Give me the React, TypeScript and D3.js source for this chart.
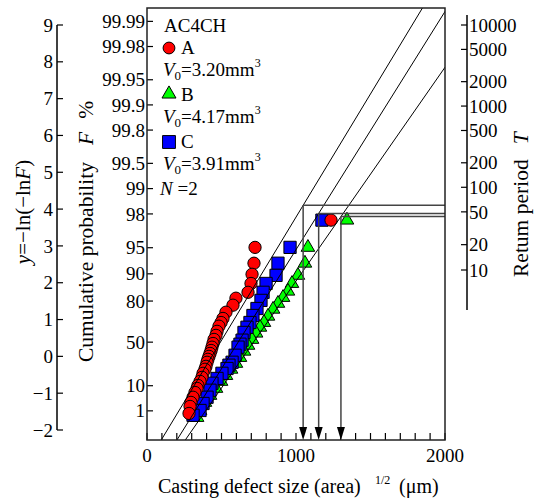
import React from 'react';
import * as d3 from 'd3';

// defect size (area)^1/2 in um, and reduced variate y = -ln(-ln F)
const sizeA = [725, 718, 705, 698, 678, 597, 577, 530, 510, 497, 483, 470, 463, 450, 443, 436, 430, 423, 416, 409, 403, 396, 389, 376, 369, 356, 342, 336, 322, 309, 295, 289, 282];
const varA = [2.96, 2.53, 2.23, 1.98, 1.74, 1.58, 1.39, 1.2, 1.03, 0.92, 0.82, 0.68, 0.57, 0.46, 0.35, 0.25, 0.16, 0.08, 0, -0.08, -0.16, -0.27, -0.35, -0.46, -0.57, -0.68, -0.79, -0.87, -0.98, -1.11, -1.25, -1.36, -1.55];

const sizeB = [1080, 1060, 1013, 973, 946, 913, 879, 846, 812, 785, 758, 732, 705, 678, 651, 624, 597, 564, 530, 497, 463, 423, 389, 356, 336];
const varB = [2.96, 2.53, 2.2, 1.98, 1.77, 1.6, 1.44, 1.28, 1.09, 0.92, 0.79, 0.63, 0.46, 0.3, 0.14, -0.03, -0.19, -0.35, -0.52, -0.68, -0.87, -1.06, -1.25, -1.47, -1.66];

const sizeC = [960, 879, 866, 799, 779, 765, 738, 711, 691, 671, 651, 638, 624, 611, 591, 571, 550, 537, 503, 470, 436, 423, 403, 376, 356, 309];
const varC = [2.96, 2.53, 2.2, 1.98, 1.74, 1.52, 1.3, 1.11, 0.92, 0.79, 0.65, 0.44, 0.33, 0.25, 0.03, -0.16, -0.24, -0.33, -0.46, -0.6, -0.73, -0.92, -1.11, -1.28, -1.47, -1.6];

// estimated maxima plotted at the top (A, B, C)
const predSize = [1235, 1342, 1174];
const predVar = [3.7, 3.7, 3.7];

// fitted lines x = a + b*y and return periods used for the arrows (A, B, C)
const fitIntercept = [435, 648, 552];
const fitSlope = [149.4, 172.2, 154.6];
const returnPeriod = [61, 45, 49];

const legendNames = ['A', 'B', 'C'];
const legendVolume = ['3.20', '4.17', '3.91'];

const varTicks = d3.range(-2, 10);
const probTicks = [1, 10, 50, 80, 90, 95, 98, 99, 99.5, 99.8, 99.9, 99.95, 99.98, 99.99];
const periodTicks = [10, 20, 50, 100, 200, 500, 1000, 2000, 5000, 10000];
const sizeTicks = [0, 1000, 2000];

const gumbel = (F: number) => -Math.log(-Math.log(F));

const font = '"Liberation Serif", "Times New Roman", serif';
const colors = ['#ff0000', '#00ff00', '#0000ff'];
const shapes = [d3.symbolCircle, d3.symbolTriangle, d3.symbolSquare];
const shapeSizes = [118, 80, 150];
const legendSizes = [110, 85, 165];

export default function App() {
  const frame = { left: 147, right: 445, top: 8, bottom: 440 };
  const x = d3.scaleLinear().domain([0, 2000]).range([frame.left, frame.right]);
  const y = d3.scaleLinear().domain([-2, 9]).range([430, 25]);
  const yProb = d3.scaleLinear().domain([-2, 9]).range([428, 29]);
  const yPeriod = d3.scaleLinear().domain([gumbel(1 - 1 / 10), gumbel(1 - 1 / 10000)]).range([270, 25]);

  const series = [
    { size: sizeB, v: varB, k: 1 },
    { size: sizeC, v: varC, k: 2 },
    { size: sizeA, v: varA, k: 0 },
  ];
  const sym = (k: number, s?: number) => d3.symbol(shapes[k], s ?? shapeSizes[k])() as string;

  const yBottom = y.invert(frame.bottom);
  const yTop = y.invert(frame.top);
  const minorX = d3.range(0, 2001, 100);

  const arrows = returnPeriod.map((T, i) => {
    const v = gumbel(1 - 1 / T);
    return { px: x(fitIntercept[i] + fitSlope[i] * v), py: y(v) };
  });

  return (
    <svg width={536} height={500} style={{ position: 'absolute', left: 0, top: 0 }} fontFamily={font}>
      <defs>
        <clipPath id="frame">
          <rect x={frame.left} y={frame.top} width={frame.right - frame.left} height={frame.bottom - frame.top} />
        </clipPath>
      </defs>

      {/* left reduced-variate axis */}
      <line x1={57} x2={57} y1={y(9)} y2={y(-2)} stroke="#000" strokeWidth={1.5} />
      {varTicks.map((t) => (
        <g key={t}>
          <line x1={57} x2={63} y1={y(t)} y2={y(t)} stroke="#000" strokeWidth={1.2} />
          <text x={53} y={y(t)} dy="0.35em" textAnchor="end" fontSize={19}>
            {t < 0 ? '\u2212' + Math.abs(t) : t}
          </text>
        </g>
      ))}
      <text transform="translate(30,212) rotate(-90)" textAnchor="middle" fontSize={21}>
        <tspan fontStyle="italic">y</tspan>=−ln(−ln<tspan fontStyle="italic">F</tspan>)
      </text>

      {/* probability axis */}
      {probTicks.map((p) => {
        const py = yProb(gumbel(p / 100));
        return (
          <g key={p}>
            <line x1={frame.left} x2={frame.left + 6} y1={py} y2={py} stroke="#000" strokeWidth={1.2} />
            <text x={frame.left - 2} y={py} dy="0.35em" textAnchor="end" fontSize={19}>
              {p}
            </text>
          </g>
        );
      })}
      <text transform="translate(93,362) rotate(-90)" fontSize={21.5}>
        Cumulative probability
        <tspan dx={17} fontStyle="italic">F</tspan>
        <tspan dx={13}>%</tspan>
      </text>

      {/* return period axis */}
      <line x1={467} x2={467} y1={15} y2={310} stroke="#000" strokeWidth={1.5} />
      {periodTicks.map((T) => {
        const py = yPeriod(gumbel(1 - 1 / T));
        return (
          <g key={T}>
            <line x1={461} x2={467} y1={py} y2={py} stroke="#000" strokeWidth={1.2} />
            <text x={469} y={py} dy="0.35em" fontSize={19}>
              {T}
            </text>
          </g>
        );
      })}
      <text transform="translate(528,277) rotate(-90)" fontSize={21.5}>
        Retum period
        <tspan dx={15} fontStyle="italic">T</tspan>
      </text>

      {/* x axis */}
      {minorX.map((t) => (
        <line key={t} x1={x(t)} x2={x(t)} y1={frame.bottom} y2={frame.bottom - 7} stroke="#000" strokeWidth={1.2} />
      ))}
      {sizeTicks.map((t) => (
        <text key={t} x={x(t)} y={462} textAnchor="middle" fontSize={19}>
          {t}
        </text>
      ))}
      <text x={158} y={493} fontSize={20}>Casting defect size (area)</text>
      <text x={375} y={484} fontSize={12}>1/2</text>
      <text x={399} y={493} fontSize={20}>(μm)</text>

      {/* markers */}
      {series.map((s) =>
        s.size.map((d, i) => (
          <path
            key={s.k + '-' + i}
            d={sym(s.k)}
            transform={`translate(${x(d)},${y(s.v[i])})`}
            fill={colors[s.k]}
            stroke="#000"
            strokeWidth={1}
          />
        ))
      )}
      {[1, 2, 0].map((k) => (
        <path
          key={'p' + k}
          d={sym(k)}
          transform={`translate(${x(predSize[k])},${y(predVar[k])})`}
          fill={colors[k]}
          stroke="#000"
          strokeWidth={1}
        />
      ))}

      {/* fitted lines */}
      <g clipPath="url(#frame)">
        {fitIntercept.map((a, i) => (
          <line
            key={i}
            x1={x(a + fitSlope[i] * yBottom)}
            y1={frame.bottom}
            x2={x(a + fitSlope[i] * yTop)}
            y2={frame.top}
            stroke="#000"
            strokeWidth={1}
          />
        ))}
      </g>

      {/* return-period guides with arrows */}
      {arrows.map((a, i) => (
        <g key={i}>
          <line x1={a.px} x2={frame.right} y1={a.py} y2={a.py} stroke="#444" strokeWidth={1.5} />
          <line x1={a.px} x2={a.px} y1={a.py} y2={frame.bottom - 10} stroke="#444" strokeWidth={1.5} />
          <path
            d={`M${a.px},${frame.bottom} L${a.px - 4},${frame.bottom - 13} L${a.px + 4},${frame.bottom - 13} Z`}
            fill="#000"
          />
        </g>
      ))}

      {/* frame */}
      <rect
        x={frame.left}
        y={frame.top}
        width={frame.right - frame.left}
        height={frame.bottom - frame.top}
        fill="none"
        stroke="#222"
        strokeWidth={1.5}
      />

      {/* legend */}
      <g fontSize={19}>
        <text x={164} y={32}>AC4CH</text>
        {legendNames.map((n, i) => {
          const top = 48 + i * 47;
          return (
            <g key={n}>
              <path
                d={sym(i, legendSizes[i])}
                transform={`translate(169,${i === 1 ? top - 1 : top})`}
                fill={colors[i]}
                stroke="#000"
                strokeWidth={1}
              />
              <text x={181} y={top + 6}>{n}</text>
              <text x={163} y={top + 28}>
                <tspan fontStyle="italic">V</tspan>
                <tspan fontSize={13} dy={4}>0</tspan>
                <tspan dy={-4}>={legendVolume[i]}mm</tspan>
                <tspan fontSize={12} dy={-9}>3</tspan>
              </text>
            </g>
          );
        })}
        <text x={160} y={195}>
          <tspan fontStyle="italic">N</tspan> =2
        </text>
      </g>
    </svg>
  );
}
